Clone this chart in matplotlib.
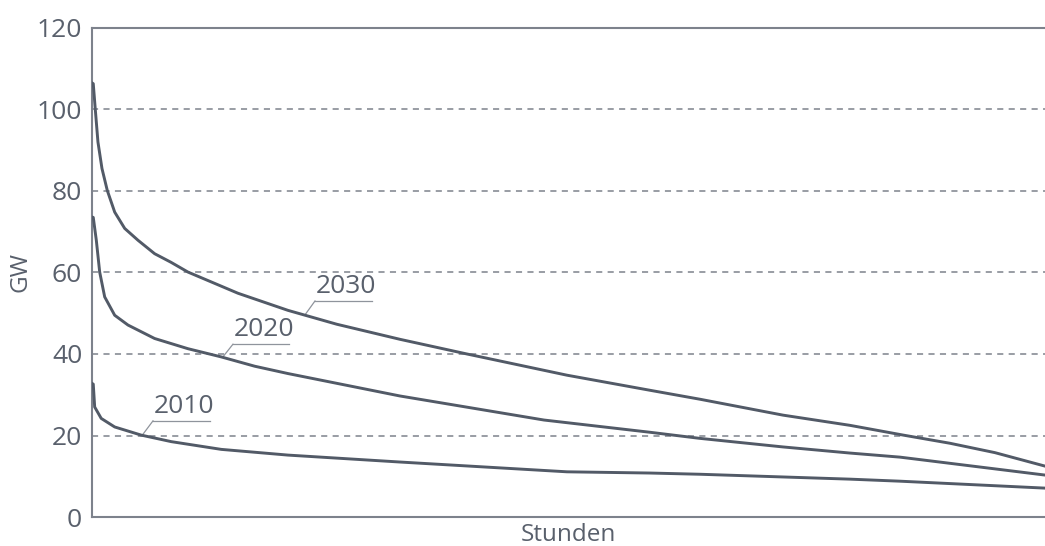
import numpy as np
import matplotlib.pyplot as plt

plt.rcParams['font.family'] = ['Open Sans', 'DejaVu Sans']

hours_2030 = [0, 12, 30, 55, 92, 141, 209, 301, 423, 576, 726, 882, 1342, 1802,
              2250, 2831, 3447, 4366, 5129, 5589, 6352, 6967, 7458, 7887, 8300, 8760]
gw_2030 = [106.5, 106.3, 100.2, 92.0, 85.5, 80.1, 74.8, 70.8, 67.9, 64.6, 62.5, 60.1,
           54.9, 50.7, 47.3, 43.6, 40.0, 34.8, 31.1, 28.9, 25.0, 22.5, 20.1, 18.1,
           15.8, 12.5]

hours_2020 = [0, 12, 40, 71, 117, 209, 331, 576, 882, 1186, 1496, 1802, 2831, 4155,
              5129, 5589, 6352, 6967, 7427, 8760]
gw_2020 = [73.6, 73.5, 67.9, 60.1, 54.0, 49.5, 47.1, 43.8, 41.3, 39.3, 37.0, 35.2,
           29.7, 23.8, 20.8, 19.3, 17.2, 15.7, 14.7, 10.3]

hours_2010 = [0, 12, 25, 85, 209, 453, 729, 1189, 1802, 2831, 4366, 5129, 5589,
              6967, 7427, 8760]
gw_2010 = [32.8, 32.6, 27.0, 24.2, 22.1, 20.1, 18.5, 16.6, 15.2, 13.5, 11.1, 10.8,
           10.5, 9.3, 8.8, 7.1]

# Beschriftungen: Text, Unterstrich (x0, x1, y), Ende der Hinweislinie (x, y)
labels = ['2030', '2020', '2010']
label_lines = [(2050, 2574, 53.0), (1296, 1811, 42.4), (561, 1085, 23.6)]
label_tips = [(1958, 49.6), (1204, 39.3), (460, 20.0)]

line_col = '#525a67'
axis_col = '#7d828c'
text_col = '#59606c'

fig = plt.figure(figsize=(10.45, 5.46), dpi=100)
ax = fig.add_axes([0.088, 0.053, 0.912, 0.896])

for yv in [20, 40, 60, 80, 100]:
    ax.axhline(yv, color=axis_col, lw=1.1, ls=(0, (4, 3.5)), zorder=1)

for h, g in [(hours_2030, gw_2030), (hours_2020, gw_2020), (hours_2010, gw_2010)]:
    ax.plot(h, g, color=line_col, lw=2.1, solid_joinstyle='round', zorder=3)

for txt, (x0, x1, yl), (tx, ty) in zip(labels, label_lines, label_tips):
    ax.plot([x0, x1], [yl, yl], color='#8f949c', lw=0.9, zorder=2)
    ax.plot([tx, x0], [ty, yl], color='#8f949c', lw=0.9, zorder=2)
    ax.text(x0 + 10, yl + 0.5, txt, fontsize=19, color=text_col,
            ha='left', va='bottom')

ax.set_xlim(0, 8760)
ax.set_ylim(0, 120)
ax.set_yticks([0, 20, 40, 60, 80, 100, 120])
ax.set_xticks([])
ax.tick_params(axis='y', length=0, pad=7, labelsize=19, labelcolor=text_col)

for side in ['left', 'bottom', 'top']:
    ax.spines[side].set_color(axis_col)
    ax.spines[side].set_linewidth(1.5)
ax.spines['right'].set_visible(False)

ax.set_ylabel('GW', fontsize=17.5, color=text_col)
ax.yaxis.set_label_coords(-0.062, 0.5)
ax.set_xlabel('Stunden', fontsize=17.5, color=text_col, labelpad=4)

fig.savefig('out.png', dpi=100)
